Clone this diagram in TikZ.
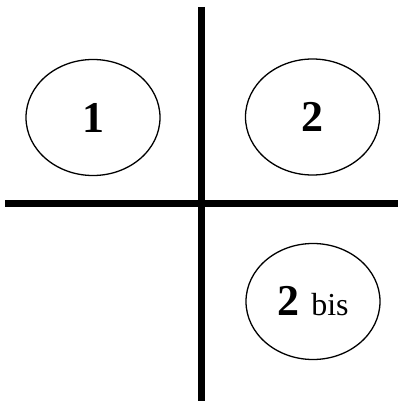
\documentclass[tikz,border=0pt]{standalone}
\usepackage{fontspec}
\setmainfont{Liberation Serif}
\usetikzlibrary{shapes.geometric}
\begin{document}
\begin{tikzpicture}[x=1pt,y=-1pt,
  zone/.style={draw=black, line width=1.3pt, ellipse, minimum width=134pt, minimum height=116pt, inner sep=0pt, font=\fontsize{44}{50}\selectfont\bfseries},
  axis/.style={line width=6.5pt}]
\useasboundingbox (0,0) rectangle (399,401);
\coordinate (vt) at (201.7,7);
\coordinate (vb) at (201.7,401);
\coordinate (hl) at (5,203.5);
\coordinate (hr) at (398,203.5);
\draw[axis] (vt) -- (vb);
\draw[axis] (hl) -- (hr);
\node[zone] (z1) at (93,117.5) {1};
\node[zone] (z2) at (312.5,117) {2};
\node[zone] (z2b) at (313,301.5) {2\hspace{12pt}{\mdseries\fontsize{32}{36}\selectfont bis}};
\end{tikzpicture}
\end{document}
